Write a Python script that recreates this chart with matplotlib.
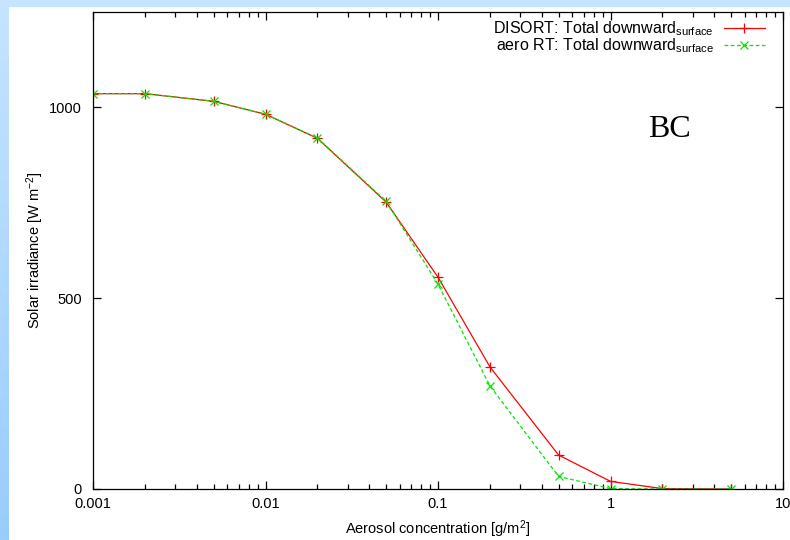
import matplotlib
matplotlib.use('Agg')
import matplotlib.pyplot as plt
import numpy as np
from matplotlib.ticker import LogLocator, NullFormatter, FixedLocator

plt.rcParams['font.family'] = ['Liberation Sans', 'DejaVu Sans']
plt.rcParams['mathtext.fontset'] = 'custom'
plt.rcParams['mathtext.rm'] = 'Liberation Sans'
plt.rcParams['mathtext.it'] = 'Liberation Sans'

# aerosol concentration [g/m2] and surface downward irradiance [W m-2]
conc = [0.001, 0.002, 0.005, 0.01, 0.02, 0.05, 0.1, 0.2, 0.5, 1, 2, 5]
disort = [1036, 1036, 1016, 982, 919, 752, 555, 320, 89, 20, 1, 0]
aero_rt = [1036, 1036, 1016, 982, 920, 754, 537, 270, 33, 1, 0, 0]

fig = plt.figure(figsize=(7.9, 5.4), dpi=100)
fig.patch.set_facecolor('white')

# slide background strips
fig.patches.append(plt.Rectangle((0, 1 - 6 / 540), 1, 6 / 540, transform=fig.transFigure,
                                 color='#c6e4fd', zorder=0))
strip = fig.add_axes([0, 0, 9 / 790, 1])
grad = np.linspace(0, 1, 256).reshape(-1, 1)
strip.imshow(grad, aspect='auto', origin='upper',
             cmap=matplotlib.colors.LinearSegmentedColormap.from_list('bg', ['#c6e4fd', '#99ccff']),
             extent=[0, 1, 0, 1])
strip.axis('off')

ax = fig.add_axes([93 / 790, 1 - 489 / 540, 690 / 790, 477 / 540])
ax.plot(conc, disort, color='#ff0000', lw=0.9, marker='+', ms=7, mew=0.9,
        label='DISORT: Total downward$_{\\mathrm{surface}}$')
ax.plot(conc, aero_rt, color='#00e600', lw=0.9, ls=(0, (3, 2)), marker='x', ms=6, mew=0.9,
        label='aero RT: Total downward$_{\\mathrm{surface}}$')

ax.set_xscale('log')
ax.set_xlim(0.001, 10)
ax.set_ylim(0, 1250)
ax.yaxis.set_major_locator(FixedLocator([0, 500, 1000]))
ax.xaxis.set_major_locator(LogLocator(base=10))
ax.xaxis.set_minor_locator(LogLocator(base=10, subs=np.arange(2, 10)))
ax.xaxis.set_minor_formatter(NullFormatter())
ax.set_xticks([0.001, 0.01, 0.1, 1, 10])
ax.set_xticklabels(['0.001', '0.01', '0.1', '1', '10'])

ax.tick_params(which='both', direction='in', top=True, right=True, labelsize=10.5)
ax.tick_params(axis='y', pad=8)
ax.tick_params(axis='x', pad=6)
ax.tick_params(which='major', length=6, width=0.9)
ax.tick_params(which='minor', length=3.5, width=0.9)
for s in ax.spines.values():
    s.set_linewidth(0.9)

ax.set_xlabel('Aerosol concentration [g/m$^2$]', fontsize=10.5, labelpad=5)
ax.set_ylabel('Solar irradiance [W m$^{-2}$]', fontsize=10.5, labelpad=2)

ax.text(0.835, 0.738, 'BC', transform=ax.transAxes, fontsize=23,
        family='Liberation Serif', ha='center', va='baseline')

ax.legend(loc='upper right', bbox_to_anchor=(0.974, 0.985), frameon=False, fontsize=11.5,
          markerfirst=False, handlelength=2.6, labelspacing=-0.08, borderaxespad=0,
          borderpad=0, handletextpad=0.6)

fig.savefig('out.png', dpi=100)
